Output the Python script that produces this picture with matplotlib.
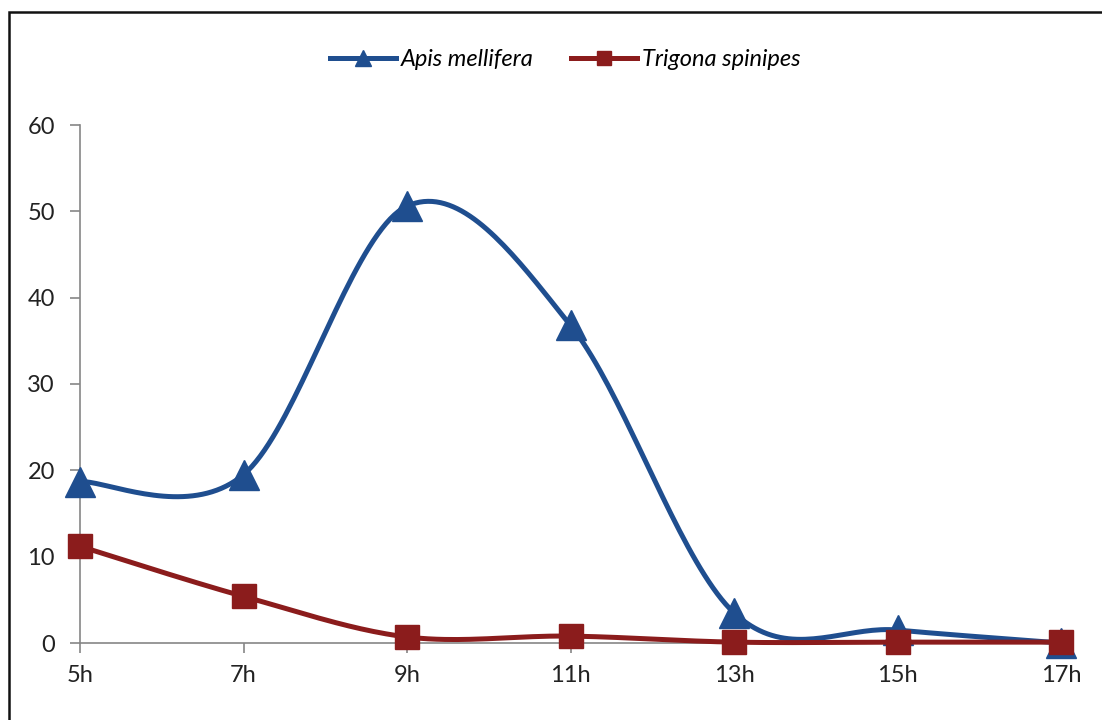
import numpy as np
import matplotlib.pyplot as plt
from matplotlib.lines import Line2D
from matplotlib.patches import Rectangle

hours = ['5h', '7h', '9h', '11h', '13h', '15h', '17h']
apis = [18.7, 19.5, 50.6, 36.8, 3.5, 1.5, 0.0]
trigona = [11.2, 5.4, 0.7, 0.8, 0.1, 0.1, 0.1]

blue = '#1F4E8F'
red = '#8B1C1C'
axis_grey = '#868686'


def smooth(y, n=40):
    # bezier smoothing through every point (control points at 1/6 of neighbour span)
    y = np.asarray(y, dtype=float)
    x = np.arange(len(y), dtype=float)
    pts = np.column_stack([x, y])
    ext = np.vstack([pts[0], pts, pts[-1]])
    xs, ys = [], []
    t = np.linspace(0, 1, n)[:, None]
    for i in range(len(pts) - 1):
        p0 = ext[i + 1]
        p3 = ext[i + 2]
        c1 = p0 + (ext[i + 2] - ext[i]) / 6
        c2 = p3 - (ext[i + 3] - ext[i + 1]) / 6
        seg = ((1 - t) ** 3) * p0 + 3 * ((1 - t) ** 2) * t * c1 \
            + 3 * (1 - t) * t ** 2 * c2 + t ** 3 * p3
        xs.append(seg[:, 0])
        ys.append(seg[:, 1])
    return np.concatenate(xs), np.concatenate(ys)


plt.rcParams['font.family'] = ['Lato', 'DejaVu Sans']

fig = plt.figure(figsize=(11.02, 7.2), dpi=100)
ax = fig.add_axes([80 / 1102, 1 - 643 / 720, (1061 - 80) / 1102, (643 - 125) / 720])

x = np.arange(len(hours))

sx, sy = smooth(apis)
ax.plot(sx, sy, color=blue, lw=3.6, solid_capstyle='round', clip_on=False, zorder=3)
ax.plot(x, apis, ls='none', marker='^', ms=22, color=blue, clip_on=False, zorder=4)

tx, ty = smooth(trigona)
ax.plot(tx, ty, color=red, lw=3.6, solid_capstyle='round', clip_on=False, zorder=5)
ax.plot(x, trigona, ls='none', marker='s', ms=17, color=red, clip_on=False, zorder=6)

ax.set_xlim(0, len(hours) - 1)
ax.set_ylim(0, 60)
ax.set_yticks(range(0, 61, 10))
ax.set_xticks(x)
ax.set_xticklabels(hours)

for side in ('top', 'right'):
    ax.spines[side].set_visible(False)
for side in ('left', 'bottom'):
    ax.spines[side].set_color(axis_grey)
    ax.spines[side].set_linewidth(1.2)

ax.tick_params(axis='y', length=7, width=1.2, color=axis_grey, pad=11,
               labelsize=17, labelcolor='#222222')
ax.tick_params(axis='x', length=7, width=1.2, color=axis_grey, pad=9,
               labelsize=17, labelcolor='#222222')

handles = [
    Line2D([], [], color=blue, lw=3.6, marker='^', ms=11),
    Line2D([], [], color=red, lw=3.6, marker='s', ms=10),
]
fig.legend(handles, ['Apis mellifera', 'Trigona spinipes'],
           loc='center', bbox_to_anchor=(565 / 1102, 1 - 60 / 720),
           ncol=2, frameon=False, handlelength=2.8, handletextpad=0.2,
           columnspacing=1.6, prop={'style': 'italic', 'size': 17})

# outer frame, only top and left edges sit inside the canvas
fig.patches.append(Rectangle((9 / 1102, -0.1), 1.2, 1 - 12 / 720 + 0.1,
                             transform=fig.transFigure, fill=False,
                             edgecolor='#111111', lw=1.8))

fig.savefig('out.png', dpi=100)
